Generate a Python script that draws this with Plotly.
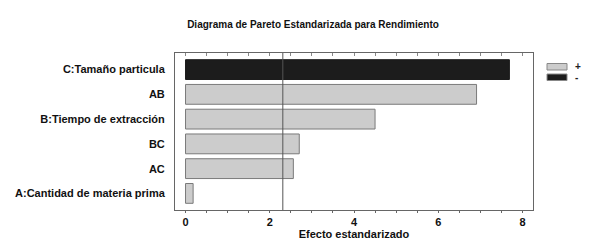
import plotly.graph_objects as go

title = "Diagrama de Pareto Estandarizada para Rendimiento"
factors = ["C:Tamaño particula", "AB", "B:Tiempo de extracción", "BC", "AC",
           "A:Cantidad de materia prima"]
effects = [7.69, 6.91, 4.50, 2.70, 2.56, 0.18]
signs = ["-", "+", "+", "+", "+", "+"]
critical = 2.31
x_ticks = [0, 2, 4, 6, 8]
x_label = "Efecto estandarizado"

W, H = 589, 248
L, R, T, B = 175, 56, 53, 38
FONT = "Liberation Sans, Arial, sans-serif"

fill = {"+": "#cccccc", "-": "#1c1c1c"}
edge = {"+": "#7a7a7a", "-": "#1c1c1c"}

fig = go.Figure()
fig.add_trace(go.Bar(
    x=effects, y=factors, orientation="h", width=0.8,
    marker=dict(color=[fill[s] for s in signs],
                line=dict(color=[edge[s] for s in signs], width=1)),
    showlegend=False, hoverinfo="skip"))

# invisible trace to drive the top (mirrored) axis with inside ticks
fig.add_trace(go.Scatter(x=[x_ticks[0], x_ticks[-1]], y=[factors[0], factors[0]],
                         xaxis="x2", mode="markers", marker=dict(opacity=0),
                         showlegend=False, hoverinfo="skip"))

fig.add_shape(type="line", xref="x", yref="paper", x0=critical, x1=critical,
              y0=0, y1=1, line=dict(color="#555555", width=1))

# legend drawn as shapes + text
pw = W - L - R
ph = H - T - B
def px(v): return (v - L) / pw
def py(v): return (H - B - v) / ph
for s, (y0, y1) in zip(["+", "-"], [(63.5, 70), (74, 80.5)]):
    fig.add_shape(type="rect", xref="paper", yref="paper",
                  x0=px(547), x1=px(567), y0=py(y1), y1=py(y0),
                  fillcolor=fill[s], line=dict(color="#888888", width=1))
    fig.add_annotation(xref="paper", yref="paper", x=px(573), y=py((y0 + y1) / 2),
                       text=s, showarrow=False, xanchor="left", yanchor="middle",
                       font=dict(family=FONT, size=10, color="#222", weight="bold"))

fig.update_layout(
    width=W, height=H, margin=dict(l=L, r=R, t=T, b=B, autoexpand=False),
    paper_bgcolor="white", plot_bgcolor="white",
    title=dict(text=title, x=(313) / W, xanchor="center", y=1 - 24 / H, yanchor="middle",
               font=dict(family=FONT, size=10, color="#111", weight="bold")),
    xaxis=dict(range=[-0.25, 8.25], tickvals=x_ticks, ticks="outside", ticklen=2,
               tickcolor="#666", showline=True, linecolor="#666", linewidth=1,
               showgrid=False, zeroline=False, automargin=False,
               minor=dict(dtick=0.5, ticks="outside", ticklen=2, tickcolor="#666"),
               tickfont=dict(family=FONT, size=11, color="#111", weight="bold"),
               title=dict(text=x_label, standoff=2,
                          font=dict(family=FONT, size=11, color="#111", weight="bold"))),
    xaxis2=dict(overlaying="x", side="top", matches="x", tickvals=x_ticks,
                ticks="inside", ticklen=3, tickcolor="#888", showticklabels=False,
                showline=True, linecolor="#666", linewidth=1, showgrid=False,
                zeroline=False,
                minor=dict(dtick=0.5, ticks="inside", ticklen=3, tickcolor="#888")),
    yaxis=dict(categoryorder="array", categoryarray=factors, autorange=False,
               range=[len(factors) - 0.33, -0.67], automargin=False,
               showline=True, linecolor="#666", linewidth=1, mirror=True,
               ticks="", showgrid=False, zeroline=False, ticklabelstandoff=7,
               tickfont=dict(family=FONT, size=11, color="#111", weight="bold")),
    bargap=0.2,
)

fig.write_html("out.html")
